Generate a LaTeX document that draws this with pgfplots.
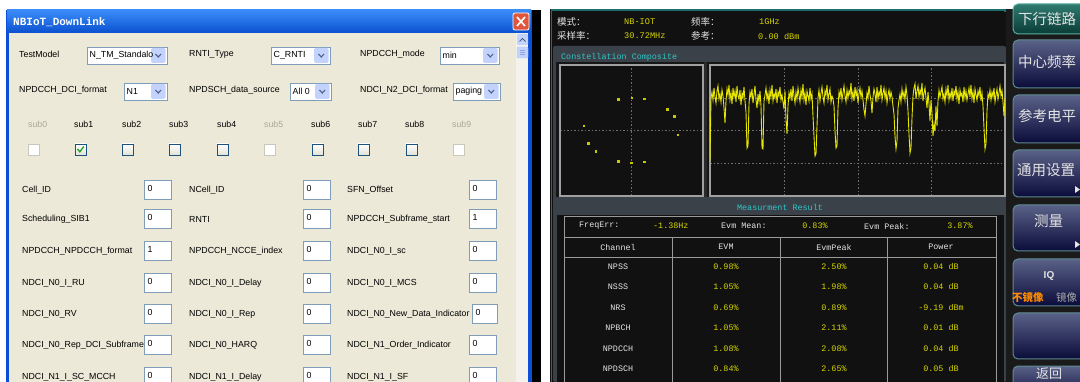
\documentclass[border=0pt]{standalone}
\usepackage{pgfplots}
\pgfplotsset{compat=1.18}
\usepackage{fontspec}
\setmainfont{Liberation Sans}
\newfontfamily\cjk{Noto Sans CJK SC}
\newfontfamily\mono{Liberation Mono}
\definecolor{xpbeige}{HTML}{ECE9D8}
\definecolor{xpblue}{HTML}{0A4FD6}
\definecolor{xptop}{HTML}{3A8CF8}
\definecolor{xpbot}{HTML}{0B50D0}
\definecolor{boxb}{HTML}{7F9DB9}
\definecolor{ddbtn}{HTML}{C3D3FD}
\definecolor{arrowc}{HTML}{4D6185}
\definecolor{chkb}{HTML}{1C5180}
\definecolor{disb}{HTML}{CAC8BB}
\definecolor{distext}{HTML}{ACA899}
\definecolor{scrbg}{HTML}{111111}
\definecolor{panelgray}{HTML}{3A4149}
\definecolor{boxgray}{HTML}{A0A0A0}
\definecolor{gridgray}{HTML}{6E6E6E}
\definecolor{ytext}{HTML}{D6D600}
\definecolor{wtext}{HTML}{E4E4E4}
\definecolor{cyantext}{HTML}{2EC8C8}
\definecolor{tealline}{HTML}{1E6E6E}
\definecolor{tabline}{HTML}{9A9A9A}
\definecolor{trace}{HTML}{E6E600}
\definecolor{dot}{HTML}{C8C800}
\definecolor{btop}{HTML}{5A6288}
\definecolor{bmid}{HTML}{161A58}
\definecolor{bbot}{HTML}{0A0B3A}
\definecolor{bedge}{HTML}{5E8C92}
\definecolor{closered}{HTML}{E1553C}
\definecolor{scrtrack}{HTML}{F3F2EC}
\definecolor{thumbb}{HTML}{B6C8F2}
\definecolor{thumbl}{HTML}{8EA6E0}
\definecolor{checkg}{HTML}{21A121}
\definecolor{innerbg}{HTML}{161616}
\definecolor{sepgray}{HTML}{2A2A2A}
\definecolor{sidebg}{HTML}{1A1A1A}
\definecolor{gtop}{HTML}{2F7A70}
\definecolor{gbot}{HTML}{0A3C36}
\definecolor{gedge}{HTML}{58B0A0}
\definecolor{orangec}{HTML}{FF8C00}
\definecolor{graytxt}{HTML}{A8A8A8}
\definecolor{chkbot}{HTML}{E4E2D6}
\newcommand\dlg{\fontsize{8.8}{10}\selectfont}
\newcommand\tf{\mono\fontsize{8.4}{9}\selectfont}
\newcommand\lbl[3]{\node[anchor=west,inner sep=0,font=\dlg] at (#1,#2) {#3};}
\newcommand\combo[4]{%
 \draw[fill=white,draw=boxb] (#1,#3-8.5) rectangle (#2,#3+8.5);
 \fill[ddbtn,rounded corners=1.5pt] (#2-16,#3-7.5) rectangle (#2-1.5,#3+7.5);
 \draw[arrowc,line width=1.1pt] (#2-11.5,#3-1.5) -- (#2-8.75,#3+1.5) -- (#2-6,#3-1.5);
 \node[anchor=west,inner sep=0,font=\dlg] at (#1+2.5,#3) {#4};}
\newcommand\tbox[4]{%
 \draw[fill=white,draw=boxb] (#1,#3-9.5) rectangle (#2,#3+9);
 \node[anchor=west,inner sep=0,font=\dlg] at (#1+3.5,#3-2) {#4};}
\newcommand\chk[1]{\shade[top color=white,bottom color=chkbot,draw=chkb] (#1,144) rectangle (#1+11,155);}
\newcommand\dchk[1]{\draw[fill=white,draw=disb] (#1,144) rectangle (#1+11,155);}
\newcommand\btn[2]{\shade[top color=btop,middle color=bmid,bottom color=bbot,draw=bedge,line width=1pt,rounded corners=5pt] (1013,#1) rectangle (1095,#2);}
\pgfplotsset{scr/.style={scale only axis,anchor=south west,
  axis background/.style={fill=scrbg},
  axis line style={draw=boxgray,line width=1.6pt},
  major tick length=0pt, xticklabels={}, yticklabels={},
  grid=major, grid style={draw=gridgray,line width=0.8pt,dash pattern=on 1.5pt off 2pt},
  clip=true}}
\begin{document}
\begin{tikzpicture}
\useasboundingbox (0pt,0pt) rectangle (1080pt,-382pt);
\begin{scope}[x=1pt,y=-1pt]
\clip (0,0) rectangle (1080,382);
\fill[white] (0,0) rectangle (1080,382);
% ---------- dialog ----------
\fill[xpblue] (6,10) rectangle (532,382);
\shade[top color=xptop,bottom color=xpbot] (7,10) rectangle (531,33);
\fill[xpbeige] (9,33) rectangle (528,382);
\fill[black] (532,10) rectangle (541,382);
\node[anchor=west,inner sep=0,text=white,font=\mono\bfseries\fontsize{11}{12}\selectfont] at (13,22) {NBIoT\_DownLink};
\draw[white,fill=closered,rounded corners=2pt,line width=0.8pt] (513,13) rectangle (529,30);
\draw[white,line width=1.6pt] (517,17) -- (525,26) (525,17) -- (517,26);
% scrollbar
\fill[scrtrack] (516,33) rectangle (528,382);
\fill[ddbtn,rounded corners=1pt] (517,34) rectangle (528,45);
\draw[arrowc,line width=1pt] (519.5,41.5) -- (522.5,38.5) -- (525.5,41.5);
\draw[fill=ddbtn,draw=thumbb,rounded corners=1pt] (517,47) rectangle (528,58);
\draw[thumbl] (520,50.5) -- (525,50.5) (520,52.5) -- (525,52.5) (520,54.5) -- (525,54.5);
% row 1 and 2
\lbl{19}{54}{TestModel}
\combo{87}{167}{55.5}{N\_TM\_Standalo}
\lbl{189}{54}{RNTI\_Type}
\combo{271}{330}{55.5}{C\_RNTI}
\lbl{360}{54}{NPDCCH\_mode}
\combo{440}{499}{55.5}{min}
\lbl{19}{90}{NPDCCH\_DCI\_format}
\combo{124}{167}{91.5}{N1}
\lbl{189}{90}{NPDSCH\_data\_source}
\combo{290}{331}{91.5}{All 0}
\lbl{360}{90}{NDCI\_N2\_DCI\_format}
\combo{453}{500}{91.5}{paging}
% subs
\foreach \x/\t in {28/sub0,264/sub5,452/sub9}
  \node[anchor=west,inner sep=0,font=\dlg,text=distext] at (\x,124) {\t};
\foreach \x/\t in {74/sub1,122/sub2,169/sub3,217/sub4,311/sub6,358/sub7,405/sub8}
  \node[anchor=west,inner sep=0,font=\dlg] at (\x,124) {\t};
\dchk{28}\chk{75}\chk{122}\chk{169}\chk{217}\dchk{264}\chk{312}\chk{358}\chk{406}\dchk{453}
\draw[checkg,line width=1.3pt] (77.5,149) -- (79.8,151.8) -- (83.8,146.5);
% fields
\foreach \y/\a/\va/\b/\vb/\c/\vc in {
 190/Cell\_ID/0/NCell\_ID/0/SFN\_Offset/0,
 219/Scheduling\_SIB1/0/RNTI/0/NPDCCH\_Subframe\_start/1,
 251/NPDCCH\_NPDCCH\_format/1/NPDCCH\_NCCE\_index/0/NDCI\_N0\_I\_sc/0,
 283/NDCI\_N0\_I\_RU/0/NDCI\_N0\_I\_Delay/0/NDCI\_N0\_I\_MCS/0,
 345/NDCI\_N0\_Rep\_DCI\_Subframe/0/NDCI\_N0\_HARQ/0/NDCI\_N1\_Order\_Indicator/0,
 377/NDCI\_N1\_I\_SC\_MCCH/0/NDCI\_N1\_I\_Delay/0/NDCI\_N1\_I\_SF/0}{
 \lbl{22}{\y}{\a}\tbox{144}{171}{\y}{\va}
 \lbl{189}{\y}{\b}\tbox{303}{330}{\y}{\vb}
 \lbl{347}{\y}{\c}\tbox{469}{496}{\y}{\vc}}
\lbl{22}{314}{NDCI\_N0\_RV}\tbox{144}{171}{314}{0}
\lbl{189}{314}{NDCI\_N0\_I\_Rep}\tbox{303}{330}{314}{0}
\lbl{347}{314}{NDCI\_N0\_New\_Data\_Indicator}\tbox{472}{497}{314}{0}
% ---------- instrument screen ----------
\fill[scrbg] (550,9) rectangle (1080,382);
\draw[tealline,line width=1.5pt] (551,10) -- (1005,10) -- (1005,12);
\draw[tealline,line width=1pt] (551,10) -- (551,382);
\foreach \x/\y/\t in {557/22/模式：,691/22/频率：,557/36/采样率：,691/36/参考：}
  \node[anchor=west,inner sep=0,text=wtext,font=\cjk\fontsize{9.5}{10}\selectfont] at (\x,\y) {\t};
\foreach \x/\y/\t in {624/22/NB-IOT,759/22/1GHz,624/36/30.72MHz,758/36/0.00 dBm}
  \node[anchor=west,inner sep=0,text=ytext,font=\mono\fontsize{8.6}{9}\selectfont] at (\x,\y) {\t};
\fill[panelgray,rounded corners=2pt] (553,46) rectangle (1006,382);
\fill[innerbg] (556,62) rectangle (1004,197);
\fill[sepgray] (704,62) rectangle (707,197);
\node[anchor=west,inner sep=0,text=cyantext,font=\tf] at (561,57) {Constellation Composite};
\node[inner sep=0,text=cyantext,font=\tf] at (780,207) {Measurment Result};
\fill[scrbg] (557,215) rectangle (1004,382);
% table
\draw[tabline,line width=0.9pt] (564,216) rectangle (996,390);
\draw[tabline,line width=0.9pt] (564,237) -- (996,237) (564,257) -- (996,257)
  (672,237) -- (672,382) (780,237) -- (780,382) (887,237) -- (887,382);
\node[anchor=west,inner sep=0,text=wtext,font=\tf] at (579,226) {FreqErr:};
\node[anchor=west,inner sep=0,text=ytext,font=\tf] at (653,226) {-1.38Hz};
\node[anchor=west,inner sep=0,text=wtext,font=\tf] at (721,226) {Evm Mean:};
\node[inner sep=0,text=ytext,font=\tf] at (815,226) {0.83\%};
\node[anchor=west,inner sep=0,text=wtext,font=\tf] at (864,226) {Evm Peak:};
\node[inner sep=0,text=ytext,font=\tf] at (960,226) {3.87\%};
\foreach \x/\t in {618/Channel,726/EVM,834/EvmPeak,941/Power}
  \node[inner sep=0,text=wtext,font=\tf] at (\x,247) {\t};
\foreach \y/\a/\b/\c/\d in {267/NPSS/0.98\%/2.50\%/0.04 dB, 287/NSSS/1.05\%/1.98\%/0.04 dB,
  308/NRS/0.69\%/0.89\%/-9.19 dBm, 328/NPBCH/1.05\%/2.11\%/0.01 dB,
  349/NPDCCH/1.08\%/2.08\%/0.04 dB, 369/NPDSCH/0.84\%/2.65\%/0.05 dB}{
  \node[inner sep=0,text=wtext,font=\tf] at (618,\y) {\a};
  \node[inner sep=0,text=ytext,font=\tf] at (726,\y) {\b};
  \node[inner sep=0,text=ytext,font=\tf] at (834,\y) {\c};
  \node[inner sep=0,text=ytext,font=\tf] at (941,\y) {\d};}
% right buttons
\fill[sidebg] (1006,9) rectangle (1080,382);
\shade[top color=gtop,bottom color=gbot,draw=gedge,line width=1pt,rounded corners=5pt] (1013,4) rectangle (1095,34);
\btn{40}{88}\btn{95}{143}\btn{150}{197}\btn{205}{251}\btn{259}{306}\btn{313}{359}\btn{366}{400}
\foreach \x/\y/\t in {1018/19/下行链路,1018/62/中心频率,1018/116/参考电平,1017/170/通用设置,1034/221/测量}
  \node[anchor=west,inner sep=0,text=wtext,font=\cjk\fontsize{14.5}{15}\selectfont] at (\x,\y) {\t};
\node[anchor=west,inner sep=0,text=wtext,font=\cjk\fontsize{13}{14}\selectfont] at (1036,374) {返回};
\fill[wtext] (1075,186) -- (1080,189.5) -- (1075,193) -- cycle;
\fill[wtext] (1075,241) -- (1080,244.5) -- (1075,248) -- cycle;
\node[inner sep=0,text=wtext,font=\bfseries\fontsize{10}{11}\selectfont] at (1049,276) {IQ};
\node[anchor=west,inner sep=0,text=orangec,font=\cjk\bfseries\fontsize{10.5}{11}\selectfont] at (1012,297) {不镜像};
\node[anchor=west,inner sep=0,text=graytxt,font=\cjk\fontsize{10.5}{11}\selectfont] at (1056,297) {镜像};
\end{scope}
% ---------- constellation ----------
\begin{axis}[scr, at={(560pt,-196pt)}, width=143pt, height=131pt,
  xmin=-71.5, xmax=71.5, ymin=-65.5, ymax=65.5, xtick={0}, ytick={0}]
\addplot[only marks, mark=square*, mark size=0.9pt, color=dot] coordinates {
 (-13.5,31.5) (0.2,32.8) (12.8,31.8) (35.8,21.5) (42.8,14.2) (-47.8,4.8)
 (46.2,-4.2) (-43.2,-12.5) (-35.8,-20.8) (-13.2,-30.8) (-0.5,-32.2) (12.8,-31.2)};
\end{axis}
% ---------- trace ----------
\begin{axis}[scr, at={(710pt,-196pt)}, width=295pt, height=131pt,
  xmin=0, xmax=295, ymin=0, ymax=131, xtick={74,148,221}, ytick={33,66,98}]
\addplot[color=trace, line width=0.9pt] table[row sep=\\, header=false, x expr=\coordindex, y index=0] {
35\\98\\104\\96\\108\\99\\93\\105\\110\\97\\
102\\94\\106\\100\\88\\73\\95\\107\\101\\111\\
96\\103\\92\\108\\99\\105\\94\\110\\100\\97\\
106\\91\\103\\98\\109\\95\\84\\48\\50\\92\\
104\\99\\107\\93\\101\\110\\96\\88\\102\\94\\
105\\90\\48\\47\\95\\101\\108\\97\\103\\92\\
106\\99\\111\\95\\102\\98\\107\\93\\104\\100\\
109\\96\\101\\94\\87\\105\\76\\62\\90\\103\\
98\\107\\95\\110\\100\\93\\104\\97\\108\\101\\
94\\106\\99\\112\\96\\103\\91\\105\\100\\95\\
108\\97\\102\\80\\60\\40\\42\\70\\98\\106\\
95\\103\\109\\99\\93\\105\\101\\111\\96\\102\\
107\\94\\100\\97\\90\\65\\48\\50\\88\\104\\
99\\108\\96\\103\\110\\100\\94\\106\\98\\105\\
101\\113\\97\\104\\95\\109\\100\\106\\93\\102\\
108\\99\\105\\96\\86\\80\\92\\103\\98\\110\\
101\\95\\83\\99\\107\\102\\94\\109\\97\\104\\
100\\111\\96\\103\\108\\98\\105\\93\\101\\106\\
97\\104\\99\\90\\82\\60\\47\\55\\88\\96\\
102\\94\\107\\99\\104\\96\\109\\101\\85\\62\\
43\\48\\78\\100\\108\\112\\97\\105\\110\\99\\
106\\101\\113\\95\\103\\108\\98\\88\\104\\92\\
75\\96\\83\\60\\72\\65\\90\\70\\95\\106\\
99\\104\\109\\97\\102\\94\\107\\100\\111\\96\\
103\\98\\108\\95\\105\\101\\110\\97\\104\\92\\
106\\100\\103\\94\\109\\98\\105\\96\\102\\108\\
99\\111\\97\\104\\93\\107\\101\\96\\105\\100\\
109\\95\\103\\90\\68\\47\\52\\85\\102\\98\\
106\\96\\104\\99\\108\\94\\101\\107\\97\\103\\
110\\100\\105\\94\\80\\98\\
};
\end{axis}
\end{tikzpicture}
\end{document}
